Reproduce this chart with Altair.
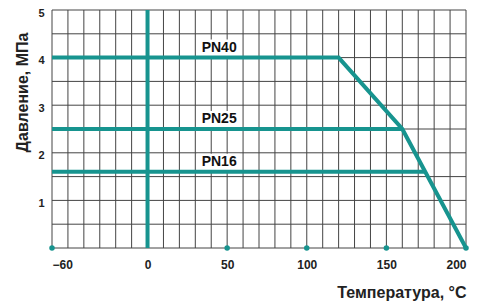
import altair as alt
import pandas as pd

# curve data
pn40_t = [-60, 120, 160, 200]
pn40_p = [4.0, 4.0, 2.5, 0.0]
pn25_t = [-60, 160]
pn25_p = [2.5, 2.5]
pn16_t = [-60, 174.4]
pn16_p = [1.6, 1.6]

labels = ["PN40", "PN25", "PN16"]
label_t = [45, 45, 45]
label_p = [4.0, 2.5, 1.6]

x_ticks = [-60, 0, 50, 100, 150, 200]
y_ticks = [1, 2, 3, 4, 5]
dot_t = [-60, 50, 100, 150, 200]

TEAL = "#17948f"

rows = []
for name, ts, ps in [("PN40", pn40_t, pn40_p), ("PN25", pn25_t, pn25_p), ("PN16", pn16_t, pn16_p)]:
    for i, (t, p) in enumerate(zip(ts, ps)):
        rows.append({"s": name, "t": t, "p": p, "o": i})
lines_df = pd.DataFrame(rows)

lab_df = pd.DataFrame({"label": labels, "t": label_t, "p": label_p})
lab_df["t1"] = lab_df["t"] - 14
lab_df["t2"] = lab_df["t"] + 13
lab_df["p1"] = lab_df["p"] + 0.02
lab_df["p2"] = lab_df["p"] + 0.38
lab_df["pt"] = lab_df["p"] + 0.2

xs = alt.Scale(domain=[-60, 200], nice=False, zero=False)
ys = alt.Scale(domain=[0, 5], nice=False)

x_axis = alt.Axis(values=x_ticks, grid=False, ticks=False, domain=False,
                  labelFont="Arial", labelFontWeight="bold", labelFontSize=12,
                  labelColor="#222", labelPadding=11,
                  title="Температура, °C", titleFont="Arial", titleFontWeight="bold",
                  titleFontSize=16, titleColor="#222", titleAnchor="end",
                  titleX=414, titleY=44, titleAlign="right", titleBaseline="middle")
y_axis = alt.Axis(values=y_ticks, grid=False, ticks=False, domain=False,
                  labelFont="Arial", labelFontWeight="bold", labelFontSize=11,
                  labelColor="#222", labelPadding=8, labelOffset=3,
                  title="Давление, МПа", titleFont="Arial", titleFontWeight="bold",
                  titleFontSize=16, titleColor="#222",
                  titleX=-30, titleY=82, titleAngle=-90, titleAlign="center",
                  titleBaseline="middle")

grid_v = pd.DataFrame({"t": list(range(-60, 201, 10))})
grid_h = pd.DataFrame({"p": [i * 0.5 for i in range(0, 11)]})

vgrid = alt.Chart(grid_v).mark_rule(color="#444", strokeWidth=1).encode(
    x=alt.X("t:Q", scale=xs, axis=x_axis), y=alt.value(0), y2=alt.value(238))
hgrid = alt.Chart(grid_h).mark_rule(color="#444", strokeWidth=1).encode(
    y=alt.Y("p:Q", scale=ys, axis=y_axis), x=alt.value(0), x2=alt.value(414))

zero_line = alt.Chart(pd.DataFrame({"t": [0]})).mark_rule(color=TEAL, strokeWidth=4).encode(
    x=alt.X("t:Q", scale=xs), y=alt.value(0), y2=alt.value(238))

curves = alt.Chart(lines_df).mark_line(color=TEAL, strokeWidth=4, strokeJoin="miter").encode(
    x=alt.X("t:Q", scale=xs), y=alt.Y("p:Q", scale=ys), detail="s:N", order="o:Q")

dots = alt.Chart(pd.DataFrame({"t": dot_t, "p": [0] * len(dot_t)})).mark_point(
    filled=True, color=TEAL, size=30, opacity=1, shape="circle").encode(
    x=alt.X("t:Q", scale=xs), y=alt.Y("p:Q", scale=ys))

boxes = alt.Chart(lab_df).mark_rect(color="white").encode(
    x=alt.X("t1:Q", scale=xs), x2="t2:Q", y=alt.Y("p1:Q", scale=ys), y2="p2:Q")

texts = alt.Chart(lab_df).mark_text(font="Arial", fontWeight="bold", fontSize=14,
                                    color="#111", baseline="middle").encode(
    x=alt.X("t:Q", scale=xs), y=alt.Y("pt:Q", scale=ys), text="label:N")

chart = alt.layer(vgrid, hgrid, zero_line, boxes, curves, dots, texts).properties(
    width=414, height=238,
    autosize=alt.AutoSizeParams(type="none"),
    padding={"left": 44, "top": 2, "right": 4, "bottom": 58},
    background="white",
).configure_view(stroke=None)

chart.save("out.html", embed_options={"renderer": "svg", "actions": False})
